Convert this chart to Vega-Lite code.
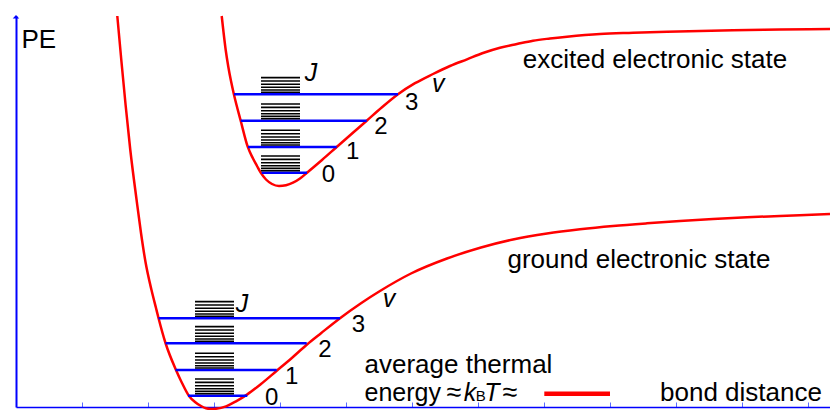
{
  "$schema": "https://vega.github.io/schema/vega-lite/v6.json",
  "width": 814,
  "height": 391,
  "autosize": {"type": "none"},
  "padding": {"left": 16, "top": 16, "right": 0, "bottom": 3},
  "background": "white",
  "config": {"view": {"stroke": null}, "font": "Liberation Sans"},
  "datasets": {
    "curves": [
      {"state": "ground", "x": 101.3, "y": 391}, {"state": "ground", "x": 105.3, "y": 347}, {"state": "ground", "x": 109.6, "y": 302},
      {"state": "ground", "x": 114.3, "y": 257}, {"state": "ground", "x": 120.6, "y": 207}, {"state": "ground", "x": 125, "y": 174},
      {"state": "ground", "x": 129.5, "y": 145}, {"state": "ground", "x": 135.5, "y": 117}, {"state": "ground", "x": 140, "y": 99},
      {"state": "ground", "x": 142.5, "y": 89}, {"state": "ground", "x": 149.5, "y": 64}, {"state": "ground", "x": 160, "y": 37},
      {"state": "ground", "x": 166, "y": 24}, {"state": "ground", "x": 173, "y": 11}, {"state": "ground", "x": 179, "y": 5},
      {"state": "ground", "x": 185, "y": 1}, {"state": "ground", "x": 190, "y": -1.3}, {"state": "ground", "x": 195, "y": -2},
      {"state": "ground", "x": 200, "y": -1.7}, {"state": "ground", "x": 210, "y": 0.7}, {"state": "ground", "x": 220, "y": 5.7},
      {"state": "ground", "x": 231, "y": 12.4}, {"state": "ground", "x": 245, "y": 23}, {"state": "ground", "x": 261, "y": 36.5},
      {"state": "ground", "x": 275, "y": 48.3}, {"state": "ground", "x": 291, "y": 62.5}, {"state": "ground", "x": 305, "y": 73.8},
      {"state": "ground", "x": 324, "y": 88.8}, {"state": "ground", "x": 345, "y": 103.8}, {"state": "ground", "x": 364, "y": 116},
      {"state": "ground", "x": 395, "y": 133.5}, {"state": "ground", "x": 431, "y": 148.5}, {"state": "ground", "x": 465, "y": 159.5},
      {"state": "ground", "x": 497, "y": 167.5}, {"state": "ground", "x": 531, "y": 173.5}, {"state": "ground", "x": 564, "y": 177.7},
      {"state": "ground", "x": 597, "y": 181}, {"state": "ground", "x": 631, "y": 183.7}, {"state": "ground", "x": 664, "y": 186},
      {"state": "ground", "x": 697, "y": 188}, {"state": "ground", "x": 731, "y": 189.7}, {"state": "ground", "x": 764, "y": 191},
      {"state": "ground", "x": 814, "y": 193},
      {"state": "excited", "x": 205.7, "y": 391}, {"state": "excited", "x": 207.5, "y": 375}, {"state": "excited", "x": 209.7, "y": 357},
      {"state": "excited", "x": 212.3, "y": 340.3}, {"state": "excited", "x": 215, "y": 326}, {"state": "excited", "x": 218, "y": 312.3},
      {"state": "excited", "x": 224.7, "y": 286.3}, {"state": "excited", "x": 231.7, "y": 260.3}, {"state": "excited", "x": 237, "y": 248.5},
      {"state": "excited", "x": 241, "y": 241}, {"state": "excited", "x": 244.7, "y": 234.3}, {"state": "excited", "x": 250, "y": 227.5},
      {"state": "excited", "x": 256, "y": 223}, {"state": "excited", "x": 263, "y": 221}, {"state": "excited", "x": 270, "y": 221.8},
      {"state": "excited", "x": 277, "y": 224.3}, {"state": "excited", "x": 284, "y": 228.5}, {"state": "excited", "x": 291, "y": 234.3},
      {"state": "excited", "x": 306, "y": 247}, {"state": "excited", "x": 320.7, "y": 260}, {"state": "excited", "x": 335.5, "y": 273},
      {"state": "excited", "x": 350.7, "y": 286.3}, {"state": "excited", "x": 366, "y": 299.7}, {"state": "excited", "x": 382, "y": 312.7},
      {"state": "excited", "x": 399, "y": 323.8}, {"state": "excited", "x": 417, "y": 333}, {"state": "excited", "x": 434, "y": 341},
      {"state": "excited", "x": 451, "y": 347.7}, {"state": "excited", "x": 467, "y": 354}, {"state": "excited", "x": 484, "y": 359.3},
      {"state": "excited", "x": 501, "y": 363}, {"state": "excited", "x": 517, "y": 366.3}, {"state": "excited", "x": 534, "y": 368.5},
      {"state": "excited", "x": 551, "y": 370.3}, {"state": "excited", "x": 584, "y": 373}, {"state": "excited", "x": 617, "y": 374.2},
      {"state": "excited", "x": 651, "y": 375.3}, {"state": "excited", "x": 684, "y": 376}, {"state": "excited", "x": 717, "y": 376.7},
      {"state": "excited", "x": 764, "y": 377.4}, {"state": "excited", "x": 814, "y": 378}
    ],
    "levels": [
      {"x": 172, "x2": 231.3, "y": 11.3}, {"x": 159.5, "x2": 260.7, "y": 37}, {"x": 149.5, "x2": 290.7, "y": 63.7}, {"x": 142.5, "x2": 324, "y": 88.7},
      {"x": 245.7, "x2": 291, "y": 234.3}, {"x": 232, "x2": 320.7, "y": 260}, {"x": 224.7, "x2": 350.7, "y": 286.3}, {"x": 218, "x2": 382, "y": 312.7}
    ],
    "rot": [
      {"x": 179, "x2": 218, "y": 13.3}, {"x": 179, "x2": 218, "y": 15.6}, {"x": 179, "x2": 218, "y": 18.3}, {"x": 179, "x2": 218, "y": 21.3}, {"x": 179, "x2": 218, "y": 24.6}, {"x": 179, "x2": 218, "y": 28},
      {"x": 179, "x2": 218, "y": 39}, {"x": 179, "x2": 218, "y": 41.3}, {"x": 179, "x2": 218, "y": 44}, {"x": 179, "x2": 218, "y": 47}, {"x": 179, "x2": 218, "y": 50.3}, {"x": 179, "x2": 218, "y": 53.7},
      {"x": 179, "x2": 218, "y": 65.7}, {"x": 179, "x2": 218, "y": 68}, {"x": 179, "x2": 218, "y": 70.7}, {"x": 179, "x2": 218, "y": 73.7}, {"x": 179, "x2": 218, "y": 77}, {"x": 179, "x2": 218, "y": 80.4},
      {"x": 179, "x2": 218, "y": 90.7}, {"x": 179, "x2": 218, "y": 93}, {"x": 179, "x2": 218, "y": 95.7}, {"x": 179, "x2": 218, "y": 98.7}, {"x": 179, "x2": 218, "y": 102}, {"x": 179, "x2": 218, "y": 105.4},
      {"x": 245, "x2": 284, "y": 236.3}, {"x": 245, "x2": 284, "y": 238.6}, {"x": 245, "x2": 284, "y": 241.3}, {"x": 245, "x2": 284, "y": 244.3}, {"x": 245, "x2": 284, "y": 247.6}, {"x": 245, "x2": 284, "y": 251},
      {"x": 245, "x2": 284, "y": 262}, {"x": 245, "x2": 284, "y": 264.3}, {"x": 245, "x2": 284, "y": 267}, {"x": 245, "x2": 284, "y": 270}, {"x": 245, "x2": 284, "y": 273.3}, {"x": 245, "x2": 284, "y": 276.7},
      {"x": 245, "x2": 284, "y": 288.3}, {"x": 245, "x2": 284, "y": 290.6}, {"x": 245, "x2": 284, "y": 293.3}, {"x": 245, "x2": 284, "y": 296.3}, {"x": 245, "x2": 284, "y": 299.6}, {"x": 245, "x2": 284, "y": 303},
      {"x": 245, "x2": 284, "y": 314.7}, {"x": 245, "x2": 284, "y": 317}, {"x": 245, "x2": 284, "y": 319.7}, {"x": 245, "x2": 284, "y": 322.7}, {"x": 245, "x2": 284, "y": 326}, {"x": 245, "x2": 284, "y": 329.4}
    ],
    "leftText": [
      {"x": 5.5, "y": 358.7, "text": "PE"},
      {"x": 348.5, "y": 33.7, "text": "average thermal"},
      {"x": 644, "y": 6, "text": "bond distance"}
    ],
    "energyText": [
      {"x": 348.5, "y": 6, "text": "energy"}
    ],
    "centerText": [
      {"x": 639, "y": 338.7, "text": "excited electronic state"},
      {"x": 623, "y": 138.7, "text": "ground electronic state"}
    ],
    "approx": [
      {"x": 438, "y": 6, "text": "≈"},
      {"x": 494, "y": 6, "text": "≈"}
    ],
    "italicText": [
      {"x": 454, "y": 6, "text": "k"},
      {"x": 475.8, "y": 6, "text": "T"},
      {"x": 373, "y": 100.3, "text": "v"},
      {"x": 422.3, "y": 315.3, "text": "v"},
      {"x": 226, "y": 95.3, "text": "J"},
      {"x": 295, "y": 326, "text": "J"}
    ],
    "subText": [{"x": 464.8, "y": 6, "text": "B"}],
    "digits": [
      {"x": 255.7, "y": 1.7, "text": "0"}, {"x": 275.7, "y": 23.4, "text": "1"}, {"x": 309, "y": 50.1, "text": "2"}, {"x": 342.3, "y": 75.1, "text": "3"},
      {"x": 312.3, "y": 225.1, "text": "0"}, {"x": 336.7, "y": 248.4, "text": "1"}, {"x": 365, "y": 273.4, "text": "2"}, {"x": 395.7, "y": 296.7, "text": "3"}
    ],
    "bar": [{"x": 528.3, "x2": 594, "y": 13.2}],
    "arrow": [{"x": 0, "y": 390}]
  },
  "layer": [
    {
      "data": {"name": "curves"},
      "mark": {"type": "line", "color": "#ff0000", "strokeWidth": 2.5, "interpolate": "monotone"},
      "encoding": {
        "x": {"field": "x", "type": "quantitative", "scale": {"domain": [0, 814], "nice": false, "zero": false},
              "axis": {"title": null, "values": [66, 132, 198, 264, 330, 396, 462, 528, 594, 660, 726, 792], "labels": false, "grid": false,
                       "domainColor": "#0000ff", "domainWidth": 1.5, "tickColor": "#5a6cff", "tickSize": -5, "tickWidth": 1}},
        "y": {"field": "y", "type": "quantitative", "scale": {"domain": [0, 391], "nice": false, "zero": false},
              "axis": {"title": null, "labels": false, "ticks": false, "grid": false, "domainColor": "#0000ff", "domainWidth": 2}},
        "detail": {"field": "state"}
      }
    },
    {
      "data": {"name": "levels"},
      "mark": {"type": "rule", "color": "#0000ff", "strokeWidth": 2.5},
      "encoding": {"x": {"field": "x", "type": "quantitative"}, "x2": {"field": "x2"}, "y": {"field": "y", "type": "quantitative"}}
    },
    {
      "data": {"name": "rot"},
      "mark": {"type": "rule", "color": "#000000", "strokeWidth": 1.6},
      "encoding": {"x": {"field": "x", "type": "quantitative"}, "x2": {"field": "x2"}, "y": {"field": "y", "type": "quantitative"}}
    },
    {
      "data": {"name": "bar"},
      "mark": {"type": "rule", "color": "#ff0000", "strokeWidth": 4.5},
      "encoding": {"x": {"field": "x", "type": "quantitative"}, "x2": {"field": "x2"}, "y": {"field": "y", "type": "quantitative"}}
    },
    {
      "data": {"name": "arrow"},
      "mark": {"type": "point", "shape": "M-1,0.5L1,0.5L0,-0.6Z", "filled": true, "color": "#0000ff", "size": 42, "opacity": 1},
      "encoding": {"x": {"field": "x", "type": "quantitative"}, "y": {"field": "y", "type": "quantitative"}}
    },
    {
      "data": {"name": "leftText"},
      "mark": {"type": "text", "align": "left", "baseline": "alphabetic", "fontSize": 26, "color": "#000000"},
      "encoding": {"x": {"field": "x", "type": "quantitative"}, "y": {"field": "y", "type": "quantitative"}, "text": {"field": "text"}}
    },
    {
      "data": {"name": "energyText"},
      "mark": {"type": "text", "align": "left", "baseline": "alphabetic", "fontSize": 25, "color": "#000000"},
      "encoding": {"x": {"field": "x", "type": "quantitative"}, "y": {"field": "y", "type": "quantitative"}, "text": {"field": "text"}}
    },
    {
      "data": {"name": "centerText"},
      "mark": {"type": "text", "align": "center", "baseline": "alphabetic", "fontSize": 26, "color": "#000000"},
      "encoding": {"x": {"field": "x", "type": "quantitative"}, "y": {"field": "y", "type": "quantitative"}, "text": {"field": "text"}}
    },
    {
      "data": {"name": "approx"},
      "mark": {"type": "text", "align": "center", "baseline": "alphabetic", "fontSize": 27, "color": "#000000"},
      "encoding": {"x": {"field": "x", "type": "quantitative"}, "y": {"field": "y", "type": "quantitative"}, "text": {"field": "text"}}
    },
    {
      "data": {"name": "italicText"},
      "mark": {"type": "text", "align": "center", "baseline": "alphabetic", "fontSize": 25, "fontStyle": "italic", "color": "#000000"},
      "encoding": {"x": {"field": "x", "type": "quantitative"}, "y": {"field": "y", "type": "quantitative"}, "text": {"field": "text"}}
    },
    {
      "data": {"name": "subText"},
      "mark": {"type": "text", "align": "center", "baseline": "alphabetic", "fontSize": 15, "color": "#000000"},
      "encoding": {"x": {"field": "x", "type": "quantitative"}, "y": {"field": "y", "type": "quantitative"}, "text": {"field": "text"}}
    },
    {
      "data": {"name": "digits"},
      "mark": {"type": "text", "align": "center", "baseline": "alphabetic", "fontSize": 24, "color": "#000000"},
      "encoding": {"x": {"field": "x", "type": "quantitative"}, "y": {"field": "y", "type": "quantitative"}, "text": {"field": "text"}}
    }
  ]
}
